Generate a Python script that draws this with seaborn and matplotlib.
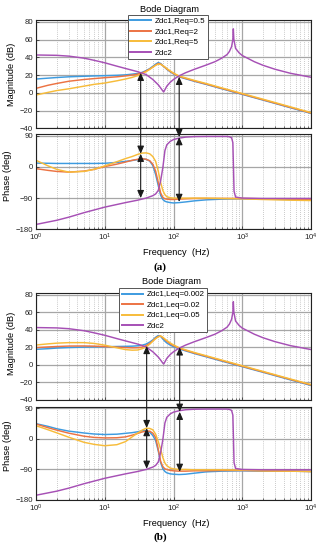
import numpy as np
import pandas as pd
import matplotlib
matplotlib.use("Agg")
import matplotlib.pyplot as plt
import seaborn as sns
from matplotlib.patches import ConnectionPatch
from matplotlib.lines import Line2D
from matplotlib.ticker import LogLocator, FixedLocator, NullFormatter, FuncFormatter

plt.rcParams['font.family'] = ['Liberation Sans', 'DejaVu Sans']
plt.rcParams['mathtext.fontset'] = 'custom'
plt.rcParams['mathtext.rm'] = 'Liberation Sans'
plt.rcParams['mathtext.it'] = 'Liberation Sans:italic'

# ---------------- data ----------------
freq = [1, 1.5, 2, 3, 5, 7, 10, 15, 20, 25, 30, 35, 40, 45, 50, 55, 60, 65, 70, 75,
        80, 90, 100, 120, 150, 200, 300, 500, 1000, 2000, 5000, 10000]

# panel (a) magnitude (dB)
mag_a_req05 = [15.5, 16.5, 17.2, 18.0, 18.6, 19.0, 19.3, 19.7, 20.2, 21.0, 21.8, 23.0, 25.0, 27.2, 29.8, 32.3,
               34.0, 33.0, 30.5, 28.5, 26.5, 23.5, 21.3, 18.0, 15.8, 13.0, 9.4, 4.6, -1.8, -8.2, -16.8, -23.2]
mag_a_req2 = [5.0, 8.5, 10.5, 13.0, 15.0, 16.0, 17.0, 18.0, 19.0, 20.0, 21.0, 22.5, 24.5, 26.7, 29.0, 31.3,
              33.0, 32.5, 30.5, 28.7, 26.8, 24.0, 21.7, 18.4, 16.2, 13.4, 9.8, 5.0, -1.4, -7.8, -16.4, -22.8]
mag_a_req5 = [-2.5, 0.5, 2.5, 4.5, 7.5, 9.5, 11.0, 13.5, 15.5, 17.3, 19.3, 21.3, 23.8, 26.3, 28.8, 31.0,
              32.3, 32.0, 30.6, 29.0, 27.3, 24.5, 22.2, 19.0, 16.8, 14.0, 10.4, 5.6, -0.8, -7.2, -15.8, -22.3]

# panel (a) phase (deg)
ph_a_req05 = [11.0, 10.5, 10.0, 10.0, 10.0, 10.0, 10.5, 13.0, 16.0, 18.5, 21.0, 23.0, 22.0, 17.0, 4.0, -22.0,
              -54.0, -82.0, -94.0, -99.0, -101.0, -103.0, -104.0, -103.0, -101.0, -98.0, -95.0, -93.0, -92.0, -93.0, -94.0, -95.0]
ph_a_req2 = [-5.0, -10.0, -13.0, -15.0, -12.0, -7.0, 1.0, 8.0, 14.0, 19.0, 22.0, 24.0, 22.0, 18.0, 8.0, -12.0,
             -45.0, -75.0, -88.0, -92.0, -93.0, -94.0, -94.0, -93.0, -92.0, -91.0, -91.0, -91.0, -91.0, -92.0, -93.0, -94.0]
ph_a_req5 = [19.0, 3.0, -7.0, -15.0, -13.0, -7.0, 3.0, 15.0, 24.0, 30.0, 36.0, 40.0, 40.5, 38.0, 30.0, 16.0,
             -12.0, -45.0, -68.0, -80.0, -86.0, -89.0, -90.0, -90.0, -90.0, -90.0, -90.0, -91.0, -92.0, -94.0, -96.0, -97.0]

# panel (b) magnitude (dB)
mag_b_leq0002 = [17.8, 18.5, 19.2, 19.8, 20.3, 20.6, 20.8, 21.0, 21.2, 21.4, 21.8, 22.5, 23.8, 26.0, 28.5, 31.5,
                 33.5, 32.5, 29.5, 27.0, 25.0, 22.5, 20.8, 18.3, 16.0, 13.0, 9.2, 4.4, -2.0, -8.4, -17.0, -23.4]
mag_b_leq002 = [19.7, 20.5, 21.0, 21.5, 21.6, 21.4, 21.0, 20.3, 19.8, 19.5, 19.6, 20.3, 22.0, 24.5, 27.5, 30.5,
                32.5, 32.8, 31.0, 28.8, 27.0, 24.0, 22.0, 19.0, 16.6, 13.6, 9.8, 5.0, -1.5, -7.9, -16.5, -22.9]
mag_b_leq005 = [22.7, 24.0, 24.8, 25.4, 25.4, 24.5, 22.5, 19.5, 17.5, 16.8, 17.0, 18.5, 20.5, 23.5, 27.0, 30.0,
                32.0, 33.0, 31.5, 29.5, 27.8, 25.0, 22.8, 19.8, 17.2, 14.2, 10.4, 5.6, -0.9, -7.4, -16.0, -22.4]

# panel (b) phase (deg)
ph_b_leq0002 = [45.0, 37.0, 30.0, 23.0, 17.5, 14.5, 13.0, 14.0, 16.5, 18.5, 21.0, 24.0, 24.5, 20.0, 10.0, -5.0,
                -35.0, -70.0, -88.0, -96.0, -100.0, -103.0, -104.0, -105.0, -104.0, -101.0, -97.0, -95.0, -94.0, -95.0, -95.0, -96.0]
ph_b_leq002 = [44.0, 33.0, 26.0, 17.0, 8.0, 4.5, 3.0, 3.5, 6.0, 11.0, 16.0, 20.5, 23.0, 23.0, 17.0, 4.0,
               -31.0, -66.0, -82.0, -88.0, -90.0, -93.0, -94.0, -95.0, -95.0, -94.0, -94.0, -93.0, -93.0, -94.0, -95.0, -96.0]
ph_b_leq005 = [39.0, 27.0, 18.0, 5.0, -10.0, -16.0, -20.0, -17.0, -8.0, 6.0, 17.0, 26.0, 31.5, 31.0, 27.0, 14.0,
               -8.0, -30.0, -55.0, -71.0, -79.0, -86.0, -88.0, -90.0, -90.0, -91.0, -91.0, -91.0, -92.0, -94.0, -95.0, -96.0]

# Zdc2 (same in both panels)
freq_zdc2_mag = [1, 2, 3, 5, 7, 10, 15, 20, 30, 40, 50, 60, 65, 70, 72, 75, 80, 90, 100, 120, 150, 200, 300,
                 400, 500, 600, 650, 700, 730, 742, 755, 800, 900, 1000, 1500, 2000, 3000, 5000, 10000]
mag_zdc2 = [42.6, 42.2, 41.3, 39.0, 36.6, 33.8, 30.0, 27.4, 23.8, 20.5, 15.0, 9.0, 5.5, 2.0, 1.0, 3.5, 7.5, 12.0,
            15.0, 19.0, 22.6, 26.4, 31.3, 35.0, 38.9, 43.0, 46.5, 52.0, 60.0, 72.0, 60.0, 50.0, 45.0, 42.0, 35.0,
            31.0, 26.5, 22.0, 17.5]
freq_zdc2_ph = [1, 2, 3, 5, 10, 20, 30, 40, 50, 55, 60, 65, 70, 75, 80, 90, 100, 120, 150, 200, 300, 500, 600,
                650, 700, 730, 745, 760, 800, 1000, 2000, 5000, 10000]
ph_zdc2 = [-166.0, -154.0, -145.0, -132.0, -116.0, -103.0, -96.0, -90.0, -83.0, -78.0, -68.0, -40.0, -2.0, 47.0,
           64.0, 74.0, 79.0, 83.0, 86.0, 87.5, 88.0, 88.0, 88.0, 87.0, 84.0, 70.0, 0.0, -70.0, -87.0, -90.0, -91.0,
           -91.0, -91.0]

labels_a = ['Zdc1,Req=0.5', 'Zdc1,Req=2', 'Zdc1,Req=5', 'Zdc2']
labels_b = ['Zdc1,Leq=0.002', 'Zdc1,Leq=0.02', 'Zdc1,Leq=0.05', 'Zdc2']
colors = ['#3d9be0', '#ec7343', '#f7bc3a', '#a650b5']

mag_yticks = [-40, -20, 0, 20, 40, 60, 80]
ph_yticks = [-180, -90, 0, 90]
x_decades = [1, 10, 100, 1000, 10000]

# arrows: (freq, mag point, phase mid point, phase bottom)
arrows_a = [(33.3, 22.5, 38, -90), (121, 18.0, 86, -101)]
arrows_b = [(40.7, 21.6, 32, -88), (123, 20.0, 80, -97)]

# ---------------- figure ----------------
fig = plt.figure(figsize=(3.22, 5.5), dpi=100)
L, Wd = 36 / 322, 275 / 322
ax_am = fig.add_axes([L, 1 - 128.3 / 550, Wd, 108.3 / 550])
ax_ap = fig.add_axes([L, 1 - 229.3 / 550, Wd, 95.3 / 550])
ax_bm = fig.add_axes([L, 1 - 400.0 / 550, Wd, 107.0 / 550])
ax_bp = fig.add_axes([L, 1 - 500.0 / 550, Wd, 93.3 / 550])


def frame(labels, zdc1_mag, zdc1_ph):
    rows_m, rows_p = [], []
    for lab, m, p in zip(labels[:3], zdc1_mag, zdc1_ph):
        rows_m.append(pd.DataFrame({'f': freq, 'v': m, 's': lab}))
        rows_p.append(pd.DataFrame({'f': freq, 'v': p, 's': lab}))
    rows_m.append(pd.DataFrame({'f': freq_zdc2_mag, 'v': mag_zdc2, 's': labels[3]}))
    rows_p.append(pd.DataFrame({'f': freq_zdc2_ph, 'v': ph_zdc2, 's': labels[3]}))
    return pd.concat(rows_m), pd.concat(rows_p)


def style(ax, yt, ylim, xlabels):
    ax.set_xscale('log')
    ax.set_xlim(1, 10000)
    ax.set_ylim(*ylim)
    ax.yaxis.set_major_locator(FixedLocator(yt))
    ax.xaxis.set_major_locator(FixedLocator(x_decades))
    ax.xaxis.set_minor_locator(LogLocator(base=10, subs=np.arange(2, 10), numticks=20))
    ax.xaxis.set_minor_formatter(NullFormatter())
    if xlabels:
        ax.xaxis.set_major_formatter(FuncFormatter(lambda v, p: r'$\mathregular{10^{%d}}$' % round(np.log10(v))))
    else:
        ax.xaxis.set_major_formatter(NullFormatter())
    ax.grid(which='major', color='#a6a6a6', lw=0.9, ls='-')
    ax.grid(which='minor', axis='x', color='#b8b8b8', lw=0.6, ls=(0, (1, 1.5)))
    ax.set_axisbelow(True)
    ax.tick_params(which='both', direction='in', labelsize=5.6, pad=2, length=2.5, width=0.5, colors='#222222')
    ax.tick_params(which='minor', length=1.5)
    for sp in ax.spines.values():
        sp.set_color('#222222')
        sp.set_linewidth(0.8)
    ax.set_xlabel('')
    ax.set_ylabel('')


for (axm, axp, labels, zm, zp, arrows) in [
        (ax_am, ax_ap, labels_a, [mag_a_req05, mag_a_req2, mag_a_req5], [ph_a_req05, ph_a_req2, ph_a_req5], arrows_a),
        (ax_bm, ax_bp, labels_b, [mag_b_leq0002, mag_b_leq002, mag_b_leq005], [ph_b_leq0002, ph_b_leq002, ph_b_leq005], arrows_b)]:
    dm, dp = frame(labels, zm, zp)
    pal = dict(zip(labels, colors))
    sns.lineplot(data=dm, x='f', y='v', hue='s', hue_order=labels, palette=pal, ax=axm,
                 legend=False, lw=1.05, estimator=None)
    sns.lineplot(data=dp, x='f', y='v', hue='s', hue_order=labels, palette=pal, ax=axp,
                 legend=False, lw=1.05, estimator=None)
    style(axm, mag_yticks, (-40, 82), False)
    style(axp, ph_yticks, (-180, 95), True)
    for f, mv, pm, pb in arrows:
        cp = ConnectionPatch(xyA=(f, mv), coordsA=axm.transData, xyB=(f, pm), coordsB=axp.transData,
                             arrowstyle='<|-|>,head_length=0.5,head_width=0.22', mutation_scale=9,
                             color='#1a1a1a', lw=0.8, shrinkA=0, shrinkB=0, zorder=5)
        fig.add_artist(cp)
        axp.annotate('', xy=(f, pb), xytext=(f, pm),
                     arrowprops=dict(arrowstyle='<|-|>,head_length=0.5,head_width=0.22', mutation_scale=9,
                                     color='#1a1a1a', lw=0.8, shrinkA=0, shrinkB=0), zorder=5)

# legends
for labels, anchor in [(labels_a, (127.7 / 322, 1 - 15 / 550)), (labels_b, (119.3 / 322, 1 - 288.3 / 550))]:
    handles = [Line2D([], [], color=c, lw=1.4) for c in colors]
    lg = fig.legend(handles, labels, loc='upper left', bbox_to_anchor=anchor, fontsize=5.8,
                    handlelength=2.6, handletextpad=0.5, labelspacing=0.36, borderpad=0.3,
                    borderaxespad=0, fancybox=False, framealpha=1, edgecolor='#555555')
    lg.get_frame().set_linewidth(0.7)

# titles and labels
tfs = 6.7
fig.text(170 / 322, 1 - 9.3 / 550, 'Bode Diagram', ha='center', va='center', fontsize=tfs)
fig.text(172 / 322, 1 - 281.7 / 550, 'Bode Diagram', ha='center', va='center', fontsize=tfs)
fig.text(176 / 322, 1 - 252 / 550, 'Frequency  (Hz)', ha='center', va='center', fontsize=tfs)
fig.text(176 / 322, 1 - 523 / 550, 'Frequency  (Hz)', ha='center', va='center', fontsize=tfs)
fig.text(11.7 / 322, 1 - 74 / 550, 'Magnitude (dB)', ha='center', va='center', rotation=90, fontsize=tfs)
fig.text(11.7 / 322, 1 - 343 / 550, 'Magnitude (dB)', ha='center', va='center', rotation=90, fontsize=tfs)
fig.text(7.5 / 322, 1 - 176 / 550, 'Phase (deg)', ha='center', va='center', rotation=90, fontsize=tfs)
fig.text(7.5 / 322, 1 - 446 / 550, 'Phase (deg)', ha='center', va='center', rotation=90, fontsize=tfs)
fig.text(160 / 322, 1 - 267 / 550, '(a)', ha='center', va='center', fontsize=8, fontweight='bold',
         family=['Liberation Serif', 'DejaVu Serif'])
fig.text(160 / 322, 1 - 537 / 550, '(b)', ha='center', va='center', fontsize=8, fontweight='bold',
         family=['Liberation Serif', 'DejaVu Serif'])

fig.savefig('out.png', dpi=100)
